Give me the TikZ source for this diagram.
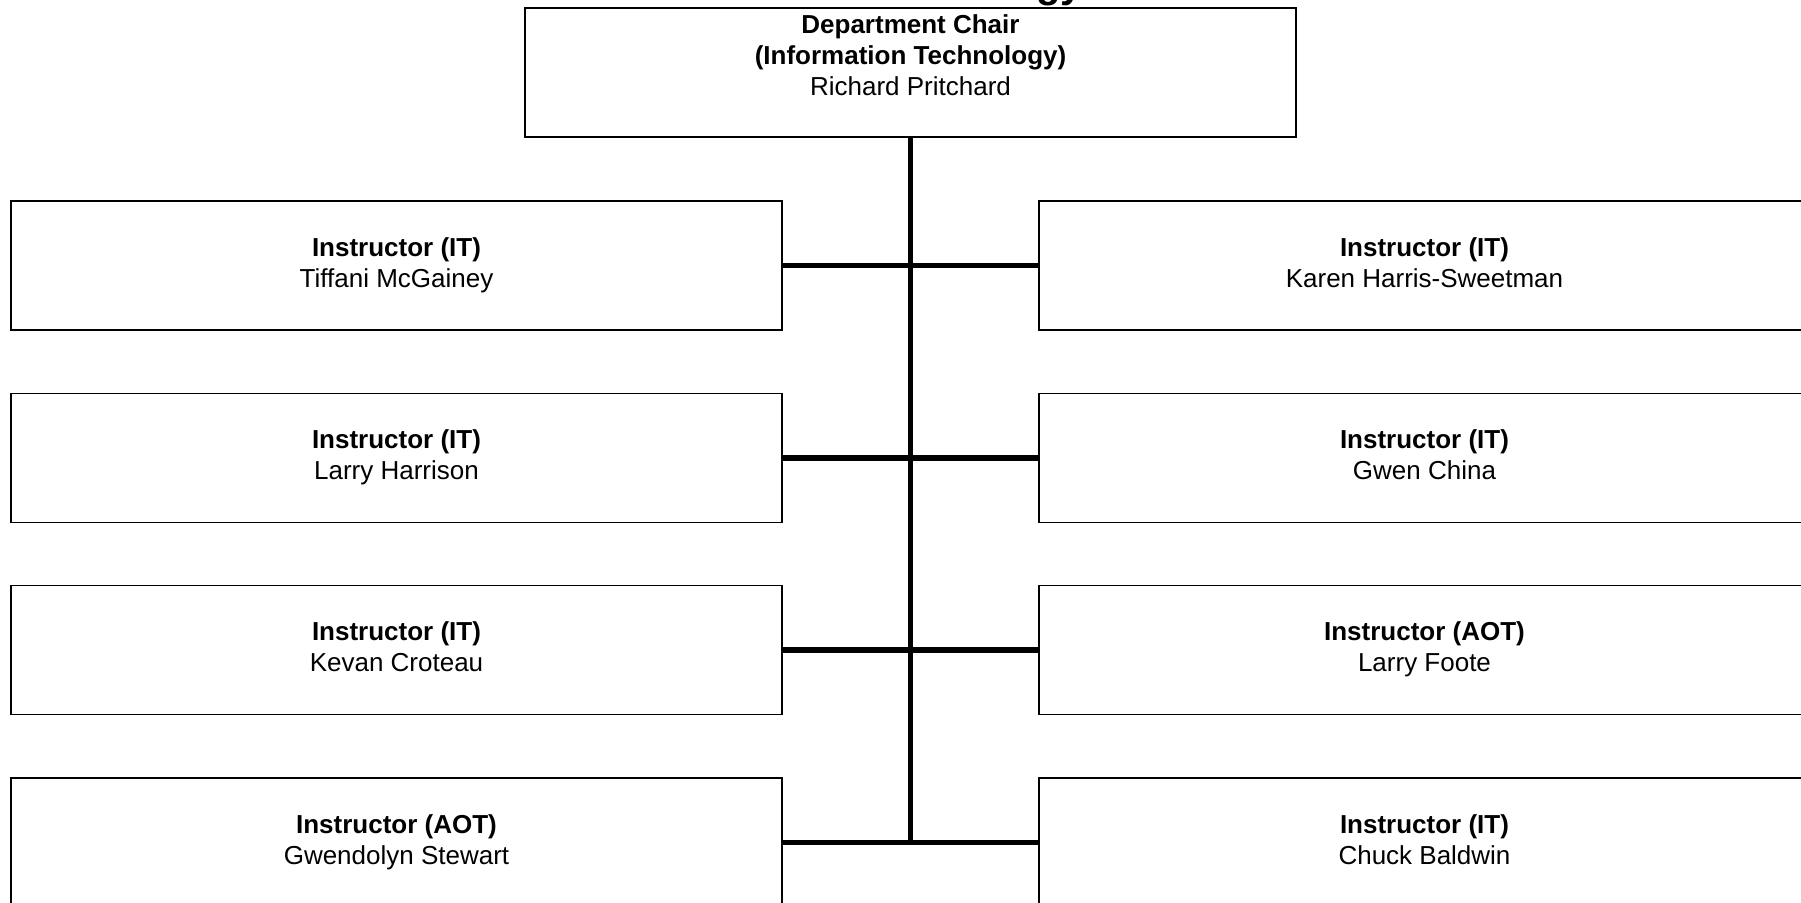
\documentclass[tikz,border=0pt]{standalone}
\usepackage{fontspec}
\setmainfont{Liberation Sans}
\usepackage{tikz}
\newcommand{\postlabel}[2]{\textbf{\strut #1}\\\strut #2}

\begin{document}
\begin{tikzpicture}[x=0.5pt,y=-0.5pt,
    post/.style={draw,line width=0.75pt,minimum width=385.5pt,minimum height=64.5pt,
      inner sep=0pt,align=center,font=\fontsize{13}{15.5}\selectfont},
    link/.style={line width=2.8pt},
    trunk/.style={line width=2.5pt}]
    \useasboundingbox (0,0) rectangle (1801,903);
    \fill[white] (0,0) rectangle (1801,903);
    % title, mostly above the page
    \node[anchor=base east,font=\fontsize{20}{24}\selectfont\bfseries] (title) at (1090,-2.5) {Information Technology};
    \node[post] (chair) at (910.5,72.5) {};
    \node[anchor=north,align=center,font=\fontsize{13}{15.5}\selectfont] (chairname) at (chair.north)
      {\textbf{Department Chair}\\\textbf{(Information Technology)}\\Richard Pritchard};
    \node[post] (l1) at (396.5,265.5) {\postlabel{Instructor (IT)}{Tiffani McGainey}};
    \node[post] (l2) at (396.5,457.8) {\postlabel{Instructor (IT)}{Larry Harrison}};
    \node[post] (l3) at (396.5,650.2) {\postlabel{Instructor (IT)}{Kevan Croteau}};
    \node[post] (l4) at (396.5,842.5) {\postlabel{Instructor (AOT)}{Gwendolyn Stewart}};
    \node[post] (r1) at (1424.5,265.5) {\postlabel{Instructor (IT)}{Karen Harris-Sweetman}};
    \node[post] (r2) at (1424.5,457.8) {\postlabel{Instructor (IT)}{Gwen China}};
    \node[post] (r3) at (1424.5,650.2) {\postlabel{Instructor (AOT)}{Larry Foote}};
    \node[post] (r4) at (1424.5,842.5) {\postlabel{Instructor (IT)}{Chuck Baldwin}};
    % connectors
    \draw[trunk] (chair.south) -- (chair.south |- l4.east);
    \draw[link] (l1.east) -- (r1.west);
    \draw[link] (l2.east) -- (r2.west);
    \draw[link] (l3.east) -- (r3.west);
    \draw[link] (l4.east) -- (r4.west);
  \end{tikzpicture}
\end{document}
